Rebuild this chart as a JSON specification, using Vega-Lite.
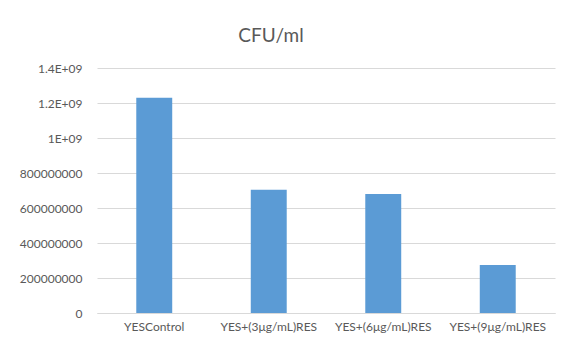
{
  "$schema": "https://vega.github.io/schema/vega-lite/v6.json",
  "width": 458,
  "height": 245,
  "autosize": "none",
  "padding": {"left": 97, "top": 68, "right": 9, "bottom": 31},
  "background": "white",
  "title": {
    "text": "CFU/ml",
    "anchor": "middle",
    "frame": "group",
    "dx": -55,
    "offset": 16,
    "fontSize": 19,
    "font": "Lato",
    "fontWeight": "normal",
    "color": "#595959"
  },
  "data": {
    "values": [
      {"group": "YESControl", "cfu": 1230000000},
      {"group": "YES+(3μg/mL)RES", "cfu": 705000000},
      {"group": "YES+(6μg/mL)RES", "cfu": 680000000},
      {"group": "YES+(9μg/mL)RES", "cfu": 274000000}
    ]
  },
  "mark": {"type": "bar", "color": "#5b9bd5"},
  "encoding": {
    "x": {
      "field": "group",
      "type": "nominal",
      "sort": null,
      "title": null,
      "scale": {"paddingInner": 0.686, "paddingOuter": 0.343},
      "axis": {
        "labelAngle": 0,
        "labelFont": "Lato",
        "labelFontSize": 12,
        "labelColor": "#595959",
        "labelPadding": 8,
        "ticks": false,
        "domainColor": "#d9d9d9",
        "domainWidth": 1
      }
    },
    "y": {
      "field": "cfu",
      "type": "quantitative",
      "title": null,
      "scale": {"domain": [0, 1400000000], "nice": false},
      "axis": {
        "values": [0, 200000000, 400000000, 600000000, 800000000, 1000000000, 1200000000, 1400000000],
        "labelExpr": "datum.value >= 1000000000 ? format(datum.value / 1000000000, '') + 'E+09' : format(datum.value, 'd')",
        "labelFont": "Lato",
        "labelFontSize": 12,
        "labelColor": "#595959",
        "labelPadding": 15,
        "ticks": false,
        "domain": false,
        "gridColor": "#d9d9d9",
        "gridWidth": 1
      }
    }
  },
  "config": {"view": {"stroke": null}}
}
